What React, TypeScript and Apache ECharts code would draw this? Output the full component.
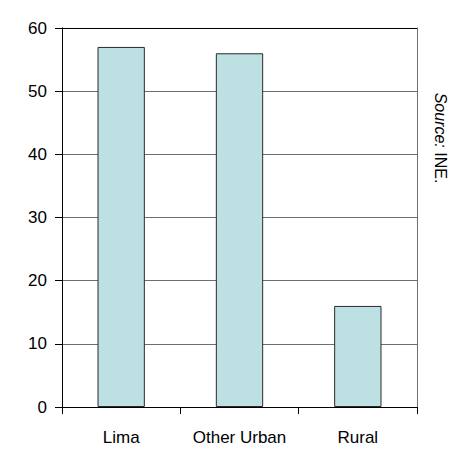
import React, { useEffect, useRef } from "react";
import * as echarts from "echarts";

// Share of households by area (%)
const categories = ["Lima", "Other Urban", "Rural"];
const values = [57, 56, 16];
const yTicks = [0, 10, 20, 30, 40, 50, 60];
const sourceLabel = ["Source:", " INE."];

const FONT = "'Liberation Sans', Arial, sans-serif";

export default function App() {
  const ref = useRef<HTMLDivElement>(null);

  useEffect(() => {
    if (!ref.current) return;
    const chart = echarts.init(ref.current, undefined, { renderer: "svg" });
    // top gridline doubles as the black frame edge; the rest are grey
    const gridColors = yTicks.map((t, i) => (i === yTicks.length - 1 ? "#000" : "#6e6e6e"));
    chart.setOption({
      animation: false,
      grid: { left: 62, right: 34, top: 28, bottom: 43, containLabel: false },
      xAxis: {
        type: "category",
        data: categories,
        boundaryGap: true,
        axisLine: { lineStyle: { color: "#000", width: 1 } },
        axisTick: { show: true, alignWithLabel: false, length: 7, inside: false, lineStyle: { color: "#000" } },
        axisLabel: { color: "#000", fontFamily: FONT, fontSize: 17, margin: 22, interval: 0, hideOverlap: false },
        splitLine: { show: false },
      },
      yAxis: [
        {
          type: "value",
          min: yTicks[0],
          max: yTicks[yTicks.length - 1],
          interval: 10,
          axisLine: { show: true, lineStyle: { color: "#000", width: 1 } },
          axisTick: { show: true, length: 7, inside: false, lineStyle: { color: "#000" } },
          axisLabel: { color: "#000", fontFamily: FONT, fontSize: 17, margin: 15 },
          splitLine: { show: true, lineStyle: { color: gridColors, width: 1 } },
        },
        {
          type: "value",
          position: "right",
          min: yTicks[0],
          max: yTicks[yTicks.length - 1],
          interval: 10,
          axisLine: { show: true, lineStyle: { color: "#6e6e6e", width: 1 } },
          axisTick: { show: false },
          axisLabel: { show: false },
          splitLine: { show: false },
        },
      ],
      series: [
        {
          type: "bar",
          data: values,
          barWidth: "40%",
          itemStyle: { color: "#bde0e3", borderColor: "#2a2a2a", borderWidth: 1 },
        },
      ],
      graphic: [
        {
          type: "text",
          x: 440,
          y: 138,
          rotation: -Math.PI / 2,
          style: {
            text: `{i|${sourceLabel[0]}}{n|${sourceLabel[1]}}`,
            align: "center",
            verticalAlign: "middle",
            rich: {
              i: { fontStyle: "italic", fontFamily: FONT, fontSize: 16, fill: "#000" },
              n: { fontFamily: FONT, fontSize: 16, fill: "#000" },
            },
          },
        },
      ],
    });
    return () => chart.dispose();
  }, []);

  return <div ref={ref} style={{ width: 451, height: 450, position: "absolute", left: 0, top: 0 }} />;
}
